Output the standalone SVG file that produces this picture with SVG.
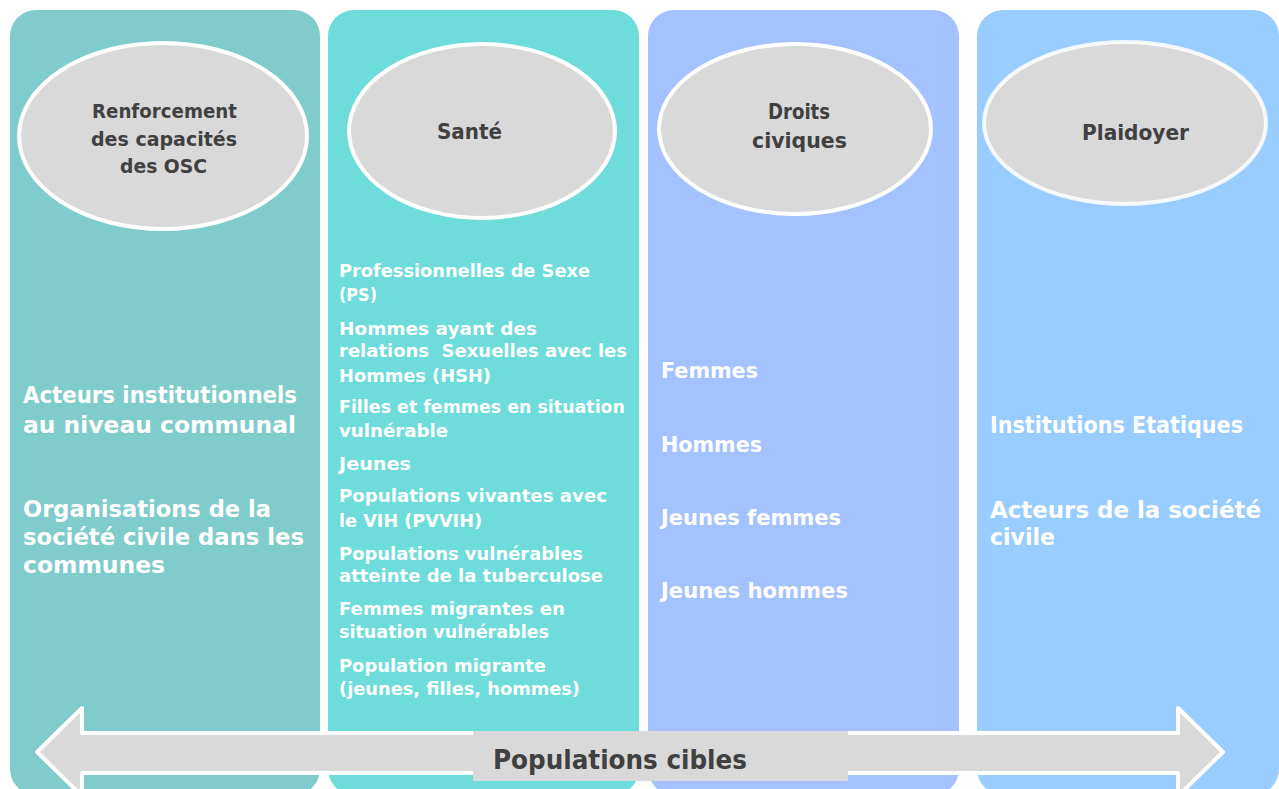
<svg xmlns="http://www.w3.org/2000/svg" width="1279" height="789" viewBox="0 0 1279 789">
<style>
.t{font-family:"DejaVu Sans","Liberation Sans",sans-serif;font-weight:bold;}
.lbl{fill:#404040;}
.w{fill:#ffffff;}
.ell{fill:#D9D9D9;stroke:#ffffff;stroke-width:4;}
.f23{font-size:23px;}
.f18{font-size:18px;}
.f21{font-size:21px;}
.f20{font-size:20px;}
</style>
<rect x="0" y="0" width="1279" height="789" fill="#ffffff"/>
<g id="panel-renforcement">
<rect x="10" y="10" width="310" height="785" rx="26" fill="#80CCCC"/>
<ellipse class="ell" cx="163" cy="136" rx="144" ry="93"/>
<text class="t lbl f20"><tspan x="92" y="118" textLength="145" lengthAdjust="spacingAndGlyphs">Renforcement</tspan><tspan x="91" y="146" textLength="146" lengthAdjust="spacingAndGlyphs">des capacités</tspan><tspan x="120" y="173" textLength="87" lengthAdjust="spacingAndGlyphs">des OSC</tspan></text>
<text class="t w f23"><tspan x="23" y="403" textLength="274" lengthAdjust="spacingAndGlyphs">Acteurs institutionnels</tspan><tspan x="23" y="433" textLength="273" lengthAdjust="spacingAndGlyphs">au niveau communal</tspan><tspan x="23" y="517" textLength="248" lengthAdjust="spacingAndGlyphs">Organisations de la</tspan><tspan x="23" y="545" textLength="281" lengthAdjust="spacingAndGlyphs">société civile dans les</tspan><tspan x="23" y="573" textLength="142" lengthAdjust="spacingAndGlyphs">communes</tspan></text>
</g>
<g id="panel-sante">
<rect x="328" y="10" width="311" height="785" rx="26" fill="#6EDCDB"/>
<ellipse class="ell" cx="482" cy="131" rx="133" ry="87"/>
<text class="t lbl f21" x="437" y="139" textLength="65" lengthAdjust="spacingAndGlyphs">Santé</text>
<text class="t w f18"><tspan x="339" y="277" textLength="251" lengthAdjust="spacingAndGlyphs">Professionnelles de Sexe</tspan><tspan x="339" y="301" textLength="38" lengthAdjust="spacingAndGlyphs">(PS)</tspan><tspan x="339" y="335" textLength="198" lengthAdjust="spacingAndGlyphs">Hommes ayant des</tspan><tspan x="339" y="357" textLength="288" lengthAdjust="spacingAndGlyphs">relations&#160; Sexuelles avec les</tspan><tspan x="339" y="382" textLength="152" lengthAdjust="spacingAndGlyphs">Hommes (HSH)</tspan><tspan x="339" y="413" textLength="286" lengthAdjust="spacingAndGlyphs">Filles et femmes en situation</tspan><tspan x="339" y="437" textLength="109" lengthAdjust="spacingAndGlyphs">vulnérable</tspan><tspan x="339" y="470" textLength="72" lengthAdjust="spacingAndGlyphs">Jeunes</tspan><tspan x="339" y="502" textLength="268" lengthAdjust="spacingAndGlyphs">Populations vivantes avec</tspan><tspan x="339" y="527" textLength="143" lengthAdjust="spacingAndGlyphs">le VIH (PVVIH)</tspan><tspan x="339" y="560" textLength="244" lengthAdjust="spacingAndGlyphs">Populations vulnérables</tspan><tspan x="339" y="582" textLength="264" lengthAdjust="spacingAndGlyphs">atteinte de la tuberculose</tspan><tspan x="339" y="615" textLength="226" lengthAdjust="spacingAndGlyphs">Femmes migrantes en</tspan><tspan x="339" y="638" textLength="210" lengthAdjust="spacingAndGlyphs">situation vulnérables</tspan><tspan x="339" y="672" textLength="207" lengthAdjust="spacingAndGlyphs">Population migrante</tspan><tspan x="339" y="695" textLength="241" lengthAdjust="spacingAndGlyphs">(jeunes, filles, hommes)</tspan></text>
</g>
<g id="panel-droits">
<rect x="648" y="10" width="311" height="785" rx="26" fill="#A3C2FF"/>
<ellipse class="ell" cx="795" cy="129" rx="136" ry="85"/>
<text class="t lbl f21"><tspan x="768" y="119" textLength="62" lengthAdjust="spacingAndGlyphs">Droits</tspan><tspan x="752" y="148" textLength="95" lengthAdjust="spacingAndGlyphs">civiques</tspan></text>
<text class="t w f21"><tspan x="661" y="378" textLength="97" lengthAdjust="spacingAndGlyphs">Femmes</tspan><tspan x="661" y="452" textLength="101" lengthAdjust="spacingAndGlyphs">Hommes</tspan><tspan x="661" y="525" textLength="180" lengthAdjust="spacingAndGlyphs">Jeunes femmes</tspan><tspan x="661" y="598" textLength="187" lengthAdjust="spacingAndGlyphs">Jeunes hommes</tspan></text>
</g>
<g id="panel-plaidoyer">
<rect x="977" y="10" width="302" height="785" rx="26" fill="#99CCFF"/>
<ellipse cx="1125" cy="123" rx="141" ry="81" fill="#D9D9D9" stroke="#ffffff" stroke-width="4" stroke-opacity="0.85"/>
<text class="t lbl f21" x="1082" y="140" textLength="107" lengthAdjust="spacingAndGlyphs">Plaidoyer</text>
<text class="t w f23"><tspan x="990" y="433" textLength="253" lengthAdjust="spacingAndGlyphs">Institutions Etatiques</tspan><tspan x="990" y="518" textLength="271" lengthAdjust="spacingAndGlyphs">Acteurs de la société</tspan><tspan x="990" y="545" textLength="65" lengthAdjust="spacingAndGlyphs">civile</tspan></text>
</g>
<g id="connectors">
<path d="M37,752 L82,708 L82,733 L1178,733 L1178,708 L1223,752 L1178,796 L1178,773 L82,773 L82,796 Z" fill="#D9D9D9" stroke="#ffffff" stroke-width="4" stroke-linejoin="round"/>
</g>
<g id="populations-cibles">
<rect x="473" y="731" width="375" height="50" fill="#D9D9D9"/>
<text class="t lbl" font-size="27" x="493" y="769" textLength="254" lengthAdjust="spacingAndGlyphs">Populations cibles</text>
</g>
</svg>
